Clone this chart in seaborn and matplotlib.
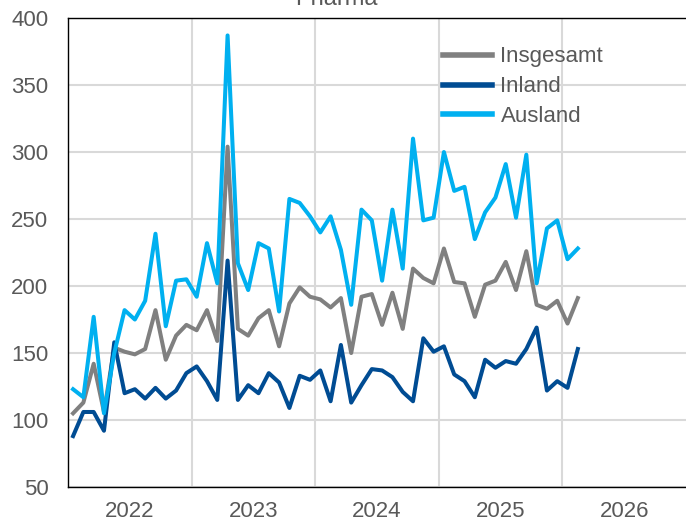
import seaborn as sns
import matplotlib.pyplot as plt
import pandas as pd

# monthly values, Jan 2022 .. Feb 2026
insgesamt = [105, 113, 142, 106, 154, 151, 149, 153, 182, 145,
             163, 171, 167, 182, 159, 304, 168, 163, 176, 182,
             155, 187, 199, 192, 190, 184, 191, 150, 192, 194,
             171, 195, 168, 213, 206, 202, 228, 203, 202, 177,
             201, 204, 218, 197, 226, 186, 183, 189, 172, 191]
inland = [88, 106, 106, 92, 158, 120, 123, 116, 124, 116,
          122, 135, 140, 129, 115, 219, 115, 126, 120, 135,
          128, 109, 133, 130, 137, 114, 156, 113, 126, 138,
          137, 132, 121, 114, 161, 151, 155, 134, 129, 117,
          145, 139, 144, 142, 153, 169, 122, 129, 124, 153]
ausland = [123, 117, 177, 105, 150, 182, 175, 189, 239, 170,
           204, 205, 192, 232, 202, 387, 217, 197, 232, 228,
           181, 265, 262, 252, 240, 252, 227, 186, 257, 249,
           204, 257, 213, 310, 249, 251, 300, 271, 274, 235,
           255, 266, 291, 251, 298, 202, 243, 249, 220, 228]
series_names = ["Insgesamt", "Inland", "Ausland"]
years = ["2022", "2023", "2024", "2025", "2026"]
colors = ["#808080", "#004c93", "#00b0f0"]

n = len(insgesamt)
df = pd.DataFrame({
    "Monat": [i + 0.5 for i in range(n)] * 3,
    "Wert": insgesamt + inland + ausland,
    "Reihe": [s for s in series_names for _ in range(n)],
})

plt.rcParams["font.family"] = ["Liberation Sans", "DejaVu Sans"]
txt = "#595959"

fig = plt.figure(figsize=(6.86, 5.22), dpi=100)
ax = fig.add_axes([0.099, 0.067, 0.901, 0.8985])

sns.lineplot(data=df, x="Monat", y="Wert", hue="Reihe", hue_order=series_names,
             palette=colors, linewidth=2.9, ax=ax, zorder=3)

ax.set_xlim(0, 12 * len(years))
ax.set_ylim(50, 400)
ax.set_yticks(range(50, 401, 50))
ax.set_xticks([12 * k for k in range(1, len(years))], minor=False)
ax.set_xticks([12 * k + 6 for k in range(len(years))], minor=True)
ax.set_xticklabels([""] * (len(years) - 1))
ax.set_xticklabels(years, minor=True)
ax.grid(axis="y", color="#d9d9d9", linewidth=1.5, zorder=0)
ax.grid(axis="x", which="major", color="#d9d9d9", linewidth=1.5, zorder=0)
ax.tick_params(which="both", length=0, labelsize=16, labelcolor=txt)
ax.tick_params(axis="x", which="minor", pad=10)
ax.tick_params(axis="y", pad=14)
ax.set_xlabel("")
ax.set_ylabel("")
for side in ["left", "bottom", "top"]:
    ax.spines[side].set_color("black")
    ax.spines[side].set_linewidth(1.0)
ax.spines["right"].set_visible(False)

leg = ax.legend(loc="upper left", bbox_to_anchor=(0.574, 0.982), frameon=False,
                fontsize=16, handlelength=2.2, labelspacing=0.4, handletextpad=0.4)
for t in leg.get_texts():
    t.set_color(txt)
for line in leg.get_lines():
    line.set_linewidth(4)

fig.text(0.49, 0.99, "Pharma", ha="center", va="baseline", fontsize=17, color=txt)

fig.savefig("out.png", dpi=100)
